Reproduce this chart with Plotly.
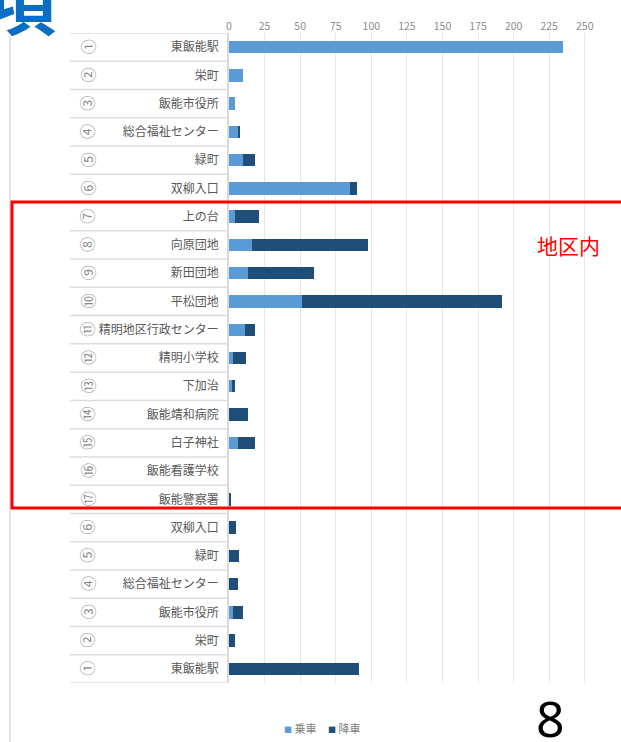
import plotly.graph_objects as go

stops = ["東飯能駅", "栄町", "飯能市役所", "総合福祉センター", "緑町", "双柳入口",
         "上の台", "向原団地", "新田団地", "平松団地", "精明地区行政センター", "精明小学校",
         "下加治", "飯能靖和病院", "白子神社", "飯能看護学校", "飯能警察署",
         "双柳入口", "緑町", "総合福祉センター", "飯能市役所", "栄町", "東飯能駅"]
stop_nums = ["①", "②", "③", "④", "⑤", "⑥", "⑦", "⑧", "⑨", "⑩", "⑪", "⑫",
             "⑬", "⑭", "⑮", "⑯", "⑰", "⑥", "⑤", "④", "③", "②", "①"]
boarding = [235, 10, 4, 6, 10, 85, 4, 16, 13, 51, 11, 3, 2, 0, 6, 0, 0, 0, 0, 0, 3, 0, 0]
alighting = [0, 0, 0, 2, 8, 5, 17, 82, 47, 141, 7, 9, 2, 13, 12, 0, 1, 5, 7, 6, 7, 4, 91]
x_ticks = [0, 25, 50, 75, 100, 125, 150, 175, 200, 225, 250]
series_names = ["乗車", "降車"]
series_colors = ["#5B9BD5", "#1F4E79"]

FONT = "Noto Sans CJK JP"
W, H = 621, 742
ML, MR, MT, MB = 229, 22, 33, 59
PW, PH = W - ML - MR, H - MT - MB


def px_x(p):
    return (p - ML) / PW


def px_y(p):
    return (H - MB - p) / PH


ypos = list(range(len(stops)))

fig = go.Figure()
for name, vals, col in zip(series_names, [boarding, alighting], series_colors):
    fig.add_trace(go.Bar(y=ypos, x=vals, orientation="h", name=name,
                         marker=dict(color=col, line=dict(width=0))))

shapes = []
# row separators in the label column
for i in range(len(stops) + 1):
    shapes.append(dict(type="line", xref="paper", yref="y",
                       x0=px_x(70), x1=0, y0=i - 0.5, y1=i - 0.5,
                       line=dict(color="#DCDCDC", width=1.5), layer="below"))
# left border line of slide
shapes.append(dict(type="line", xref="paper", yref="paper",
                   x0=px_x(10), x1=px_x(10), y0=px_y(742), y1=px_y(36),
                   line=dict(color="#D8D8D8", width=1.5)))
# red highlight box
shapes.append(dict(type="rect", xref="paper", yref="paper",
                   x0=px_x(12), x1=px_x(626), y0=px_y(508), y1=px_y(202),
                   line=dict(color="#FF0000", width=3)))

annotations = []
for i, n in enumerate(stop_nums):
    annotations.append(dict(text=n, xref="paper", yref="y", x=px_x(87), y=i,
                            xanchor="center", yanchor="middle",
                            showarrow=False, textangle=-90,
                            font=dict(family=FONT, size=15, color="#8C8C8C")))
annotations.append(dict(text="地区内", xref="paper", yref="paper",
                        x=px_x(568), y=px_y(245), xanchor="center", yanchor="middle",
                        showarrow=False,
                        font=dict(family=FONT, size=21, color="#FF0000")))
annotations.append(dict(text="8", xref="paper", yref="paper",
                        x=px_x(550), y=px_y(718), xanchor="center", yanchor="middle",
                        showarrow=False,
                        font=dict(family="Noto Sans", size=50, color="#000000")))
annotations.append(dict(text="<b>項</b>", xref="paper", yref="paper",
                        x=px_x(58), y=px_y(-2), xanchor="right", yanchor="middle",
                        showarrow=False,
                        font=dict(family=FONT, size=72, color="#0A6FC2")))
# legend drawn as text
leg_x = [282, 326]
for name, col, lx in zip(series_names, series_colors, leg_x):
    annotations.append(dict(text=f'<span style="color:{col};font-size:8px">■</span> {name}',
                            xref="paper", yref="paper", x=px_x(lx), y=px_y(728),
                            xanchor="left", yanchor="middle", showarrow=False,
                            font=dict(family=FONT, size=11, color="#7F7F7F")))

fig.update_layout(
    width=W, height=H,
    margin=dict(l=ML, r=MR, t=MT, b=MB),
    barmode="stack", bargap=0.56,
    plot_bgcolor="white", paper_bgcolor="white",
    showlegend=False,
    font=dict(family=FONT, color="#595959"),
    xaxis=dict(side="top", range=[0, 260], tickvals=x_ticks,
               showgrid=True, gridcolor="#E6E6E6", gridwidth=1,
               zeroline=False, showline=False,
               tickfont=dict(family=FONT, size=10.5, color="#8C8C8C")),
    yaxis=dict(tickvals=ypos, ticktext=stops, range=[len(stops) - 0.5, -0.5],
               showgrid=False, zeroline=False, showline=True,
               linecolor="#D9D9D9", linewidth=1.5, ticklabelstandoff=6,
               tickfont=dict(family=FONT, size=12, color="#595959")),
    shapes=shapes,
    annotations=annotations,
)

fig.write_html("out.html", config={"displayModeBar": False},
               post_script="document.body.style.margin='0';document.body.style.overflow='hidden';")
